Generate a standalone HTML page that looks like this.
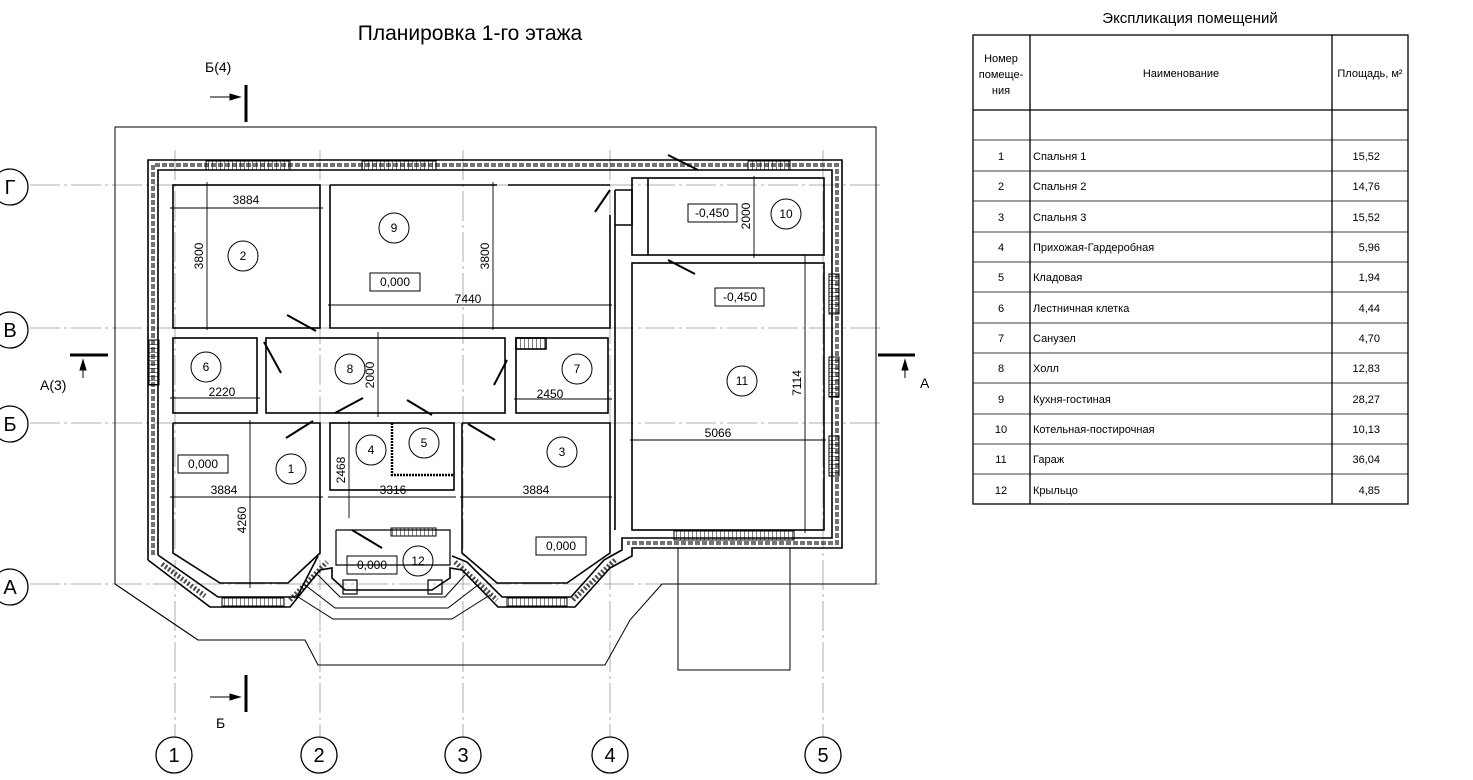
<!DOCTYPE html>
<html><head><meta charset="utf-8"><style>
html,body{margin:0;padding:0;background:#fff;}
svg{display:block;font-family:"Liberation Sans Narrow","Liberation Sans","DejaVu Sans Condensed",sans-serif;}
</style></head><body>
<svg width="1473" height="780" viewBox="0 0 1473 780" xmlns="http://www.w3.org/2000/svg">
<defs>
<pattern id="hat" width="4" height="4" patternUnits="userSpaceOnUse"><line x1="0" y1="0" x2="0" y2="4" stroke="#000" stroke-width="1"/></pattern>
<pattern id="hatv" width="4" height="4" patternUnits="userSpaceOnUse"><line x1="0" y1="0" x2="4" y2="0" stroke="#000" stroke-width="1"/></pattern>
</defs>
<text x="470" y="40" font-size="21" text-anchor="middle">Планировка 1-го этажа</text>
<text x="1190" y="23" font-size="15" text-anchor="middle">Экспликация помещений</text>

<g stroke="#999" stroke-width="0.8" stroke-dasharray="30,4,3,4" fill="none">
<line x1="30" y1="185" x2="880" y2="185"/>
<line x1="30" y1="328" x2="880" y2="328"/>
<line x1="30" y1="423" x2="880" y2="423"/>
<line x1="30" y1="584" x2="880" y2="584"/>
<line x1="175" y1="150" x2="175" y2="737"/>
<line x1="320" y1="150" x2="320" y2="737"/>
<line x1="463" y1="150" x2="463" y2="737"/>
<line x1="610" y1="150" x2="610" y2="737"/>
<line x1="823" y1="150" x2="823" y2="737"/>
</g>
<g fill="#fff" stroke="#000" stroke-width="1.3">
<circle cx="10" cy="187" r="18"/><circle cx="10" cy="330" r="18"/><circle cx="10" cy="424" r="18"/><circle cx="10" cy="587" r="18"/>
<circle cx="174" cy="755" r="18"/><circle cx="319" cy="755" r="18"/><circle cx="463" cy="755" r="18"/><circle cx="610" cy="755" r="18"/><circle cx="823" cy="755" r="18"/>
</g>
<g font-size="20" text-anchor="middle">
<text x="10" y="194">Г</text><text x="10" y="337">В</text><text x="10" y="431">Б</text><text x="10" y="594">А</text>
<text x="174" y="762">1</text><text x="319" y="762">2</text><text x="463" y="762">3</text><text x="610" y="762">4</text><text x="823" y="762">5</text>
</g>

<g fill="none" stroke="#000" stroke-width="1">
<polyline points="198,640 115,584 115,127 876,127 876,584 662,584"/>
<polyline points="115,584 198,640 305,640 318,665 605,665 630,620 662,584"/>
<rect x="678" y="548" width="112" height="122"/>
<polyline points="318,575 340,597 445,597 465,575"/>
<polyline points="305,585 335,608 448,608 478,585"/>
<polyline points="295,595 333,619 452,619 490,595"/>
</g>

<g fill="none" stroke="#000">
<polyline stroke-width="1.6" points="148,560 148,160 842,160 842,548 632,548 632,556 610,568 575,607 498,607 462,570 450,568 450,578 432,590 345,590 332,578 332,568 320,570 290,607 210,607 148,560"/>
<polyline stroke-width="1.6" points="158,555 158,170 832,170 832,538 622,538 622,550 604,560 571,597 502,597 467,562 452,556"/>
<polyline stroke-width="1.6" points="318,556 297,597 218,597 158,555"/>
<polyline stroke-width="4" stroke-dasharray="5,2" stroke="#000" points="153,555 153,165 837,165 837,543 627,543" opacity="0.55"/>
</g>
<g fill="url(#hat)" stroke="#000" stroke-width="1">
<rect x="206" y="161" width="84" height="9"/>
<rect x="362" y="161" width="74" height="9"/>
<rect x="748" y="161" width="42" height="9"/>
<rect x="674" y="531" width="120" height="9"/>
<rect x="222" y="598" width="62" height="8"/>
<rect x="507" y="598" width="60" height="8"/>
<rect x="391" y="528" width="45" height="8"/>
</g>
<g fill="url(#hatv)" stroke="#000" stroke-width="1">
<rect x="149" y="340" width="10" height="45"/>
<rect x="829" y="274" width="10" height="40"/>
<rect x="829" y="357" width="10" height="40"/>
<rect x="829" y="436" width="10" height="40"/>
</g>
<g stroke="#000" stroke-width="5" stroke-dasharray="2,2" opacity="0.7">
<line x1="162" y1="564" x2="205" y2="596"/>
<line x1="290" y1="600" x2="327" y2="562"/>
<line x1="455" y1="562" x2="497" y2="600"/>
<line x1="573" y1="600" x2="615" y2="560"/>
</g>

<g fill="none" stroke="#000" stroke-width="1.6">
<rect x="173" y="185" width="147" height="143"/>
<polyline points="330,185 330,328 610,328 610,215"/>
<line x1="330" y1="185" x2="497" y2="185"/>
<line x1="508" y1="185" x2="610" y2="185"/>
<rect x="632" y="178" width="192" height="77"/>
<line x1="648" y1="178" x2="648" y2="255"/>
<rect x="632" y="263" width="192" height="267"/>
<polyline points="615,190 632,190 632,225 615,225 615,190"/>
<line x1="615" y1="225" x2="615" y2="530"/>
<rect x="173" y="338" width="84" height="75"/>
<rect x="266" y="338" width="239" height="75"/>
<rect x="516" y="338" width="92" height="75"/>
<rect x="516" y="338" width="30" height="11" fill="url(#hat)"/>
<polyline points="173,423 173,553 220,583 288,583 320,553 320,423 173,423"/>
<rect x="330" y="423" width="124" height="67"/>
<polyline points="392,423 392,475 454,475" stroke-width="2.5" stroke-dasharray="2,1"/>
<polyline points="462,423 462,553 497,583 567,583 610,553 610,423 462,423"/>
<polyline points="336,530 336,565 450,565 450,530 336,530" stroke-width="1.2"/>
<rect x="343" y="580" width="14" height="14" stroke-width="1.2"/>
<rect x="428" y="580" width="14" height="14" stroke-width="1.2"/>
</g>
<g stroke="#000" stroke-width="2">
<line x1="287" y1="315" x2="316" y2="331"/>
<line x1="264" y1="342" x2="281" y2="373"/>
<line x1="286" y1="438" x2="313" y2="421"/>
<line x1="335" y1="413" x2="363" y2="398"/>
<line x1="407" y1="400" x2="432" y2="415"/>
<line x1="468" y1="424" x2="495" y2="440"/>
<line x1="494" y1="385" x2="507" y2="360"/>
<line x1="595" y1="212" x2="610" y2="190"/>
<line x1="668" y1="155" x2="698" y2="170"/>
<line x1="668" y1="260" x2="695" y2="274"/>
<line x1="352" y1="530" x2="382" y2="548"/>
</g>

<g stroke="#000" stroke-width="0.9">
<line x1="170" y1="208" x2="323" y2="208"/><line x1="207" y1="182" x2="207" y2="330"/>
<line x1="328" y1="305" x2="612" y2="305"/><line x1="493" y1="182" x2="493" y2="330"/>
<line x1="170" y1="398" x2="260" y2="398"/>
<line x1="378" y1="332" x2="378" y2="417"/>
<line x1="514" y1="399" x2="612" y2="399"/>
<line x1="754" y1="176" x2="754" y2="258"/>
<line x1="630" y1="440" x2="826" y2="440"/><line x1="805" y1="255" x2="805" y2="533"/>
<line x1="170" y1="497" x2="323" y2="497"/><line x1="328" y1="497" x2="456" y2="497"/><line x1="460" y1="497" x2="612" y2="497"/>
<line x1="250" y1="420" x2="250" y2="588"/><line x1="349" y1="421" x2="349" y2="518"/>
</g>
<g font-size="12" text-anchor="middle">
<text x="246" y="204">3884</text>
<text x="468" y="303">7440</text>
<text x="222" y="396">2220</text>
<text x="550" y="398">2450</text>
<text x="718" y="437">5066</text>
<text x="224" y="494">3884</text><text x="393" y="494">3316</text><text x="536" y="494">3884</text>
<text transform="translate(203,256) rotate(-90)">3800</text>
<text transform="translate(489,256) rotate(-90)">3800</text>
<text transform="translate(374,375) rotate(-90)">2000</text>
<text transform="translate(750,216) rotate(-90)">2000</text>
<text transform="translate(801,383) rotate(-90)">7114</text>
<text transform="translate(246,520) rotate(-90)">4260</text>
<text transform="translate(345,470) rotate(-90)">2468</text>
</g>
<g fill="none" stroke="#000" stroke-width="1">
<circle cx="243" cy="256" r="15"/><circle cx="394" cy="228" r="15"/><circle cx="206" cy="367" r="15"/><circle cx="350" cy="369" r="15"/>
<circle cx="577" cy="369" r="15"/><circle cx="291" cy="469" r="15"/><circle cx="371" cy="450" r="15"/><circle cx="424" cy="443" r="15"/>
<circle cx="562" cy="452" r="15"/><circle cx="786" cy="214" r="15"/><circle cx="742" cy="381" r="15"/><circle cx="418" cy="561" r="15"/>
<rect x="370" y="273" width="50" height="18"/><rect x="178" y="455" width="50" height="18"/><rect x="536" y="537" width="50" height="18"/>
<rect x="347" y="556" width="50" height="18"/><rect x="688" y="204" width="49" height="18"/><rect x="715" y="288" width="49" height="18"/>
</g>
<g font-size="12" text-anchor="middle">
<text x="243" y="260">2</text><text x="394" y="232">9</text><text x="206" y="371">6</text><text x="350" y="373">8</text>
<text x="577" y="373">7</text><text x="291" y="473">1</text><text x="371" y="454">4</text><text x="424" y="447">5</text>
<text x="562" y="456">3</text><text x="786" y="218">10</text><text x="742" y="385">11</text><text x="418" y="565">12</text>
<text x="395" y="286">0,000</text><text x="203" y="468">0,000</text><text x="561" y="550">0,000</text>
<text x="372" y="569">0,000</text><text x="712" y="217">-0,450</text><text x="740" y="301">-0,450</text>
</g>

<g stroke="#000" fill="none">
<line x1="210" y1="97" x2="240" y2="97" stroke-width="1"/><line x1="246" y1="85" x2="246" y2="122" stroke-width="3"/>
<polygon points="240,97 230,94 230,100" fill="#000"/>
<line x1="210" y1="697" x2="240" y2="697" stroke-width="1"/><line x1="246" y1="675" x2="246" y2="712" stroke-width="3"/>
<polygon points="240,697 230,694 230,700" fill="#000"/>
<line x1="70" y1="355" x2="108" y2="355" stroke-width="3"/><line x1="83" y1="378" x2="83" y2="360" stroke-width="1"/>
<polygon points="83,360 80,370 86,370" fill="#000"/>
<line x1="878" y1="355" x2="915" y2="355" stroke-width="3"/><line x1="905" y1="378" x2="905" y2="360" stroke-width="1"/>
<polygon points="905,360 902,370 908,370" fill="#000"/>
</g>
<g font-size="14"><text x="205" y="72">Б(4)</text><text x="40" y="390">А(3)</text><text x="920" y="388">А</text><text x="216" y="728">Б</text></g>

<g stroke="#000" stroke-width="1.3" fill="none">
<rect x="973" y="35" width="435" height="469"/>
<line x1="1030" y1="35" x2="1030" y2="504"/><line x1="1332" y1="35" x2="1332" y2="504"/>
<line x1="973" y1="110" x2="1408" y2="110"/>
<line x1="973" y1="140" x2="1408" y2="140" stroke-width="0.8"/>
<line x1="973" y1="171" x2="1408" y2="171" stroke-width="0.8"/>
<line x1="973" y1="201" x2="1408" y2="201" stroke-width="0.8"/>
<line x1="973" y1="232" x2="1408" y2="232" stroke-width="0.8"/>
<line x1="973" y1="262" x2="1408" y2="262" stroke-width="0.8"/>
<line x1="973" y1="292" x2="1408" y2="292" stroke-width="0.8"/>
<line x1="973" y1="323" x2="1408" y2="323" stroke-width="0.8"/>
<line x1="973" y1="353" x2="1408" y2="353" stroke-width="0.8"/>
<line x1="973" y1="383" x2="1408" y2="383" stroke-width="0.8"/>
<line x1="973" y1="414" x2="1408" y2="414" stroke-width="0.8"/>
<line x1="973" y1="444" x2="1408" y2="444" stroke-width="0.8"/>
<line x1="973" y1="474" x2="1408" y2="474" stroke-width="0.8"/>
</g>
<g font-size="11">
<text x="1001" y="62" text-anchor="middle">Номер</text><text x="1001" y="78" text-anchor="middle">помеще-</text><text x="1001" y="94" text-anchor="middle">ния</text>
<text x="1181" y="77" text-anchor="middle">Наименование</text>
<text x="1370" y="77" text-anchor="middle">Площадь, м²</text>
</g>
<g font-size="11">
<g text-anchor="middle">
<text x="1001" y="160">1</text><text x="1001" y="190">2</text><text x="1001" y="221">3</text><text x="1001" y="251">4</text>
<text x="1001" y="281">5</text><text x="1001" y="312">6</text><text x="1001" y="342">7</text><text x="1001" y="372">8</text>
<text x="1001" y="403">9</text><text x="1001" y="433">10</text><text x="1001" y="463">11</text><text x="1001" y="494">12</text>
</g>
<text x="1033" y="160">Спальня 1</text><text x="1033" y="190">Спальня 2</text><text x="1033" y="221">Спальня 3</text>
<text x="1033" y="251">Прихожая-Гардеробная</text><text x="1033" y="281">Кладовая</text><text x="1033" y="312">Лестничная клетка</text>
<text x="1033" y="342">Санузел</text><text x="1033" y="372">Холл</text><text x="1033" y="403">Кухня-гостиная</text>
<text x="1033" y="433">Котельная-постирочная</text><text x="1033" y="463">Гараж</text><text x="1033" y="494">Крыльцо</text>
<g text-anchor="end">
<text x="1380" y="160">15,52</text><text x="1380" y="190">14,76</text><text x="1380" y="221">15,52</text><text x="1380" y="251">5,96</text>
<text x="1380" y="281">1,94</text><text x="1380" y="312">4,44</text><text x="1380" y="342">4,70</text><text x="1380" y="372">12,83</text>
<text x="1380" y="403">28,27</text><text x="1380" y="433">10,13</text><text x="1380" y="463">36,04</text><text x="1380" y="494">4,85</text>
</g>
</g>
</svg>
</body></html>
